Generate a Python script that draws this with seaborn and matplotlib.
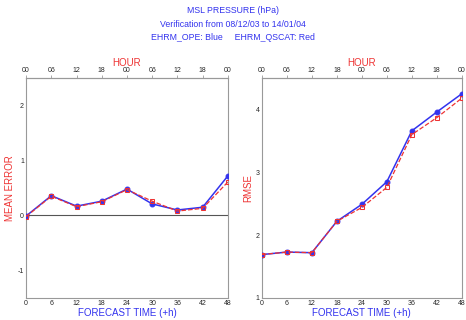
import numpy as np
import pandas as pd
import matplotlib
matplotlib.use("Agg")
import matplotlib.pyplot as plt
import seaborn as sns

# ------------------------------------------------------------
# Data
# ------------------------------------------------------------
forecast_hours = [0, 6, 12, 18, 24, 30, 36, 42, 48]
hour_labels = ["00", "06", "12", "18", "00", "06", "12", "18", "00"]

mean_error_ope = [-0.01, 0.36, 0.17, 0.26, 0.48, 0.21, 0.10, 0.15, 0.72]
mean_error_qscat = [-0.02, 0.35, 0.16, 0.25, 0.47, 0.26, 0.08, 0.13, 0.61]

rmse_ope = [1.69, 1.73, 1.72, 2.22, 2.49, 2.85, 3.66, 3.96, 4.25]
rmse_qscat = [1.69, 1.73, 1.72, 2.22, 2.44, 2.76, 3.60, 3.87, 4.18]

blue = "#3333ee"
red = "#ee3333"

sns.set_style("white")
plt.rcParams["font.family"] = ["Liberation Sans", "DejaVu Sans"]

fig = plt.figure(figsize=(4.66, 3.2), dpi=100)

ax1 = fig.add_axes([0.056, 0.069, 0.433, 0.687])
ax2 = fig.add_axes([0.562, 0.069, 0.429, 0.687])


def draw_panel(ax, ope, qscat, ylim, yticks, ylabel):
    sns.lineplot(x=forecast_hours, y=ope, ax=ax, color=blue, linewidth=1.1,
                 marker="o", markersize=3.5, markeredgecolor=blue, zorder=3)
    sns.lineplot(x=forecast_hours, y=qscat, ax=ax, color=red, linewidth=0.9,
                 linestyle="--", marker="s", markersize=3, markeredgecolor=red,
                 markerfacecolor="none", zorder=4)
    ax.set_xlim(0, 48)
    ax.set_ylim(*ylim)
    ax.set_xticks(forecast_hours)
    ax.set_xticklabels([str(h) for h in forecast_hours])
    ax.set_yticks(yticks)
    ax.tick_params(axis="both", labelsize=5, length=2, width=0.5,
                   color="#888888", pad=1.5, direction="in")
    ax.set_xlabel("FORECAST TIME (+h)", color=blue, fontsize=7, labelpad=1)
    ax.set_ylabel(ylabel, color=red, fontsize=7, labelpad=2)
    for spine in ax.spines.values():
        spine.set_color("#999999")
        spine.set_linewidth(0.8)

    top = ax.secondary_xaxis("top")
    top.set_xticks(forecast_hours)
    top.set_xticklabels(hour_labels)
    top.tick_params(labelsize=5, length=2, width=0.5, color="#888888", pad=1)
    top.set_xlabel("HOUR", color=red, fontsize=7, labelpad=0.5)
    top.spines["top"].set_color("#999999")


draw_panel(ax1, mean_error_ope, mean_error_qscat, (-1.5, 2.5), [-1, 0, 1, 2], "MEAN ERROR")
ax1.axhline(0, color="#555555", linewidth=0.8, zorder=1)
ax1.set_yticklabels(["-1", "0", "1", "2"])

draw_panel(ax2, rmse_ope, rmse_qscat, (1, 4.5), [1, 2, 3, 4], "RMSE")

fig.text(0.5, 0.966, "MSL PRESSURE (hPa)", ha="center", va="center", color=blue, fontsize=6.3)
fig.text(0.5, 0.924, "Verification from 08/12/03 to 14/01/04", ha="center", va="center",
         color=blue, fontsize=6.3)
fig.text(0.5, 0.882, "EHRM_OPE: Blue     EHRM_QSCAT: Red", ha="center", va="center",
         color=blue, fontsize=6.3)

fig.savefig("out.png", dpi=100)
